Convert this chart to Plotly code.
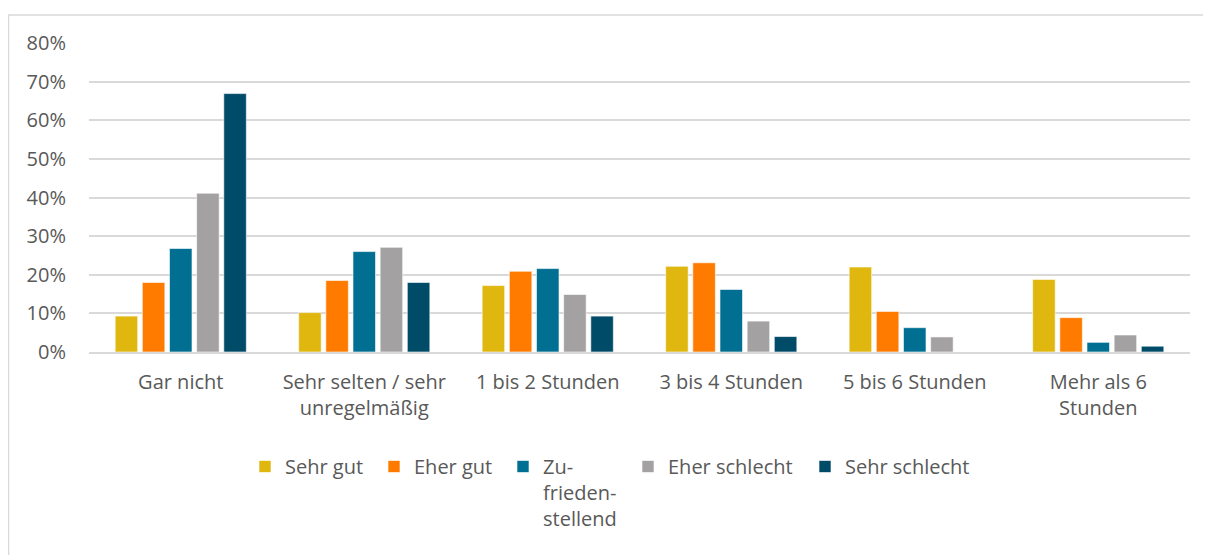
import plotly.graph_objects as go

categories = ["Gar nicht", "Sehr selten / sehr<br>unregelmäßig", "1 bis 2 Stunden",
              "3 bis 4 Stunden", "5 bis 6 Stunden", "Mehr als 6<br>Stunden"]
series_names = ["Sehr gut", "Eher gut", "Zu-<br>frieden-<br>stellend", "Eher schlecht", "Sehr schlecht"]
sehr_gut = [9.3, 10.2, 17.2, 22.2, 22.0, 18.8]
eher_gut = [18.0, 18.5, 20.9, 23.1, 10.5, 8.9]
zufrieden = [26.8, 26.0, 21.6, 16.2, 6.3, 2.5]
eher_schlecht = [41.1, 27.1, 14.9, 8.0, 3.9, 4.4]
sehr_schlecht = [66.9, 18.0, 9.3, 4.0, 0.0, 1.5]
colors = ["#E0B70F", "#FF7B00", "#006F91", "#A3A1A2", "#004B68"]
y_ticks = [0, 10, 20, 30, 40, 50, 60, 70, 80]

values = [sehr_gut, eher_gut, zufrieden, eher_schlecht, sehr_schlecht]

FONT = "Open Sans"
FS = 20

W, H = 1211, 555
# figure coordinates (page has an 8px body margin)
L, R, T, B = 81, 29, 35, 211
pw, ph = W - L - R, H - T - B

def px(x):
    return (x - L) / pw

def py(y):
    return (H - B - y) / ph

legend_x = [237, 366, 495, 620, 797]
legend_ids = ["legend", "legend2", "legend3", "legend4", "legend5"]

fig = go.Figure()
for name, vals, col, lid in zip(series_names, values, colors, legend_ids):
    fig.add_trace(go.Bar(
        x=categories, y=vals, name=name, legend=lid, showlegend=True,
        marker=dict(color=col, line=dict(color="rgba(255,255,255,0.6)", width=1)),
    ))

legend_layout = {}
for lid, lx in zip(legend_ids, legend_x):
    legend_layout[lid] = dict(orientation="h", x=px(lx), xanchor="left", y=py(439), yanchor="top",
                              font=dict(size=FS, color="#595959"), itemwidth=30,
                              valign="top", bgcolor="rgba(0,0,0,0)", borderwidth=0)

fig.update_layout(
    width=W, height=H,
    showlegend=True,
    margin=dict(l=L, r=R, t=T, b=B),
    paper_bgcolor="white", plot_bgcolor="white",
    barmode="group", bargap=0.26, bargroupgap=0.17,
    font=dict(family=FONT, size=FS, color="#595959"),
    xaxis=dict(showgrid=False, showline=True, linecolor="#D9D9D9", linewidth=2,
               ticks="", ticklabelstandoff=11, tickfont=dict(size=FS, color="#595959")),
    yaxis=dict(range=[0, 80], tickvals=y_ticks, ticktext=[f"{v}%" for v in y_ticks],
               showgrid=True, gridcolor="#D9D9D9", gridwidth=2, zeroline=False,
               ticks="", ticklabelstandoff=22, tickfont=dict(size=FS, color="#595959")),
    shapes=[dict(type="rect", xref="paper", yref="paper",
                 x0=px(0.5), x1=px(1230), y0=py(580), y1=py(7),
                 line=dict(color="#D9D9D9", width=1.5), fillcolor="rgba(0,0,0,0)", layer="below")],
    **legend_layout,
)

fig.write_html("out.html")
